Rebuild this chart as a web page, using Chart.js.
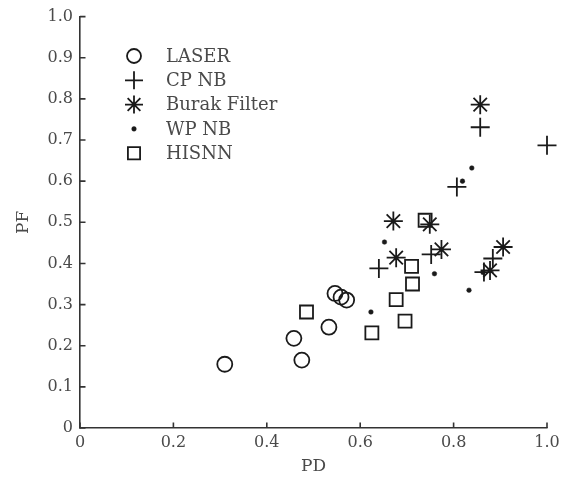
<!DOCTYPE html>
<html>
<head>
<meta charset="utf-8">
<script src="https://cdn.jsdelivr.net/npm/chart.js@4/dist/chart.umd.min.js"></script>
<style>
html,body{margin:0;padding:0;background:#fff;}
#wrap{width:572px;height:477px;}
</style>
</head>
<body>
<div id="wrap"><canvas id="c" width="572" height="477"></canvas></div>
<script>
// ---- data ----
const seriesNames = ['LASER', 'CP NB', 'Burak Filter', 'WP NB', 'HISNN'];
const laserPD = [0.310, 0.458, 0.475, 0.533, 0.546, 0.559, 0.571];
const laserPF = [0.155, 0.218, 0.165, 0.245, 0.327, 0.318, 0.311];
const cpnbPD  = [0.857, 1.000, 0.807, 0.752, 0.640, 0.884, 0.865];
const cpnbPF  = [0.731, 0.687, 0.586, 0.422, 0.388, 0.412, 0.379];
const burakPD = [0.857, 0.671, 0.749, 0.677, 0.774, 0.906, 0.878];
const burakPF = [0.786, 0.503, 0.495, 0.414, 0.434, 0.440, 0.383];
const wpnbPD  = [0.623, 0.652, 0.759, 0.833, 0.839, 0.819, 0.863];
const wpnbPF  = [0.282, 0.452, 0.375, 0.335, 0.632, 0.600, 0.378];
const hisnnPD = [0.485, 0.625, 0.677, 0.696, 0.712, 0.710, 0.739];
const hisnnPF = [0.282, 0.231, 0.312, 0.260, 0.350, 0.393, 0.505];
const xTicks = [0, 0.2, 0.4, 0.6, 0.8, 1.0];
const yTicks = [0, 0.1, 0.2, 0.3, 0.4, 0.5, 0.6, 0.7, 0.8, 0.9, 1.0];

const pts = (xs, ys) => xs.map((x, i) => ({x: x, y: ys[i]}));
const INK = '#1a1a1a';
const TXT = '#4a4a4a';
const AX = '#333333';
const FONT = "'DejaVu Serif', serif";
const LW = 1.8;

const styles = [
  {pointStyle: 'circle', radius: 7.5, fill: 'rgba(0,0,0,0)'},
  {pointStyle: 'cross', radius: 9.5, fill: 'rgba(0,0,0,0)'},
  {pointStyle: 'star', radius: 9.5, fill: 'rgba(0,0,0,0)'},
  {pointStyle: 'circle', radius: 2.3, fill: INK},
  {pointStyle: 'rect', radius: 9.2, fill: 'rgba(0,0,0,0)'}
];
const dataArr = [pts(laserPD, laserPF), pts(cpnbPD, cpnbPF), pts(burakPD, burakPF), pts(wpnbPD, wpnbPF), pts(hisnnPD, hisnnPF)];

const datasets = seriesNames.map((n, i) => ({
  label: n,
  data: dataArr[i],
  pointStyle: styles[i].pointStyle,
  pointRadius: styles[i].radius,
  pointHoverRadius: styles[i].radius,
  pointBackgroundColor: styles[i].fill,
  pointBorderColor: INK,
  pointBorderWidth: i === 3 ? 0.5 : LW,
  showLine: false,
  clip: false
}));

const legendPlugin = {
  id: 'innerLegend',
  afterDraw(chart) {
    const ctx = chart.ctx;
    const xs = chart.scales.x, ys = chart.scales.y, a = chart.chartArea;
    ctx.save();
    // inward tick marks
    ctx.strokeStyle = AX;
    ctx.lineWidth = 1.6;
    ctx.beginPath();
    for (const v of xTicks) {
      const px = xs.getPixelForValue(v);
      ctx.moveTo(px, a.bottom);
      ctx.lineTo(px, a.bottom - 5.5);
    }
    for (const v of yTicks) {
      const py = ys.getPixelForValue(v);
      ctx.moveTo(a.left, py);
      ctx.lineTo(a.left + 5.5, py);
    }
    ctx.stroke();
    // legend
    const mx = 134, tx = 166, y0 = 56, dy = 24.3;
    seriesNames.forEach((n, i) => {
      const y = y0 + i * dy;
      ctx.strokeStyle = INK;
      ctx.fillStyle = styles[i].fill;
      ctx.lineWidth = i === 3 ? 0.5 : LW;
      const r = i === 0 ? 7 : (i === 3 ? 2.3 : (i === 4 ? 8.6 : 9));
      Chart.helpers.drawPoint(ctx, {pointStyle: styles[i].pointStyle, radius: r, borderWidth: ctx.lineWidth}, mx, y);
      ctx.fillStyle = TXT;
      ctx.font = "18px " + FONT;
      ctx.textBaseline = 'middle';
      ctx.textAlign = 'left';
      ctx.fillText(n, tx, y + 1);
    });
    ctx.restore();
  }
};

const fmt = v => v === 0 ? '0' : Number(v).toFixed(1);

new Chart(document.getElementById('c'), {
  type: 'scatter',
  data: {datasets: datasets},
  options: {
    responsive: false,
    animation: false,
    events: [],
    layout: {padding: {left: 0, right: 25, top: 16, bottom: 0}},
    plugins: {legend: {display: false}, tooltip: {enabled: false}},
    scales: {
      x: {
        type: 'linear', min: 0, max: 1,
        afterFit: s => { s.height = 49; },
        afterBuildTicks: s => { s.ticks = xTicks.map(v => ({value: v})); },
        border: {display: true, color: AX, width: 1.6},
        grid: {display: true, drawOnChartArea: false, drawTicks: false, color: AX, lineWidth: 1.6},
        ticks: {color: TXT, font: {family: FONT, size: 16}, padding: 5, callback: fmt, maxRotation: 0},
        title: {display: true, text: 'PD', color: TXT, font: {family: FONT, size: 17}, padding: {top: 0, bottom: 0}}
      },
      y: {
        type: 'linear', min: 0, max: 1,
        afterFit: s => { s.width = 80; },
        afterBuildTicks: s => { s.ticks = yTicks.map(v => ({value: v})); },
        border: {display: true, color: AX, width: 1.6},
        grid: {display: true, drawOnChartArea: false, drawTicks: false, color: AX, lineWidth: 1.6},
        ticks: {color: TXT, font: {family: FONT, size: 16}, padding: 7, callback: fmt},
        title: {display: true, text: 'PF', color: TXT, font: {family: FONT, size: 17}, padding: {top: 13, bottom: 0}}
      }
    }
  },
  plugins: [legendPlugin]
});
</script>
</body>
</html>
